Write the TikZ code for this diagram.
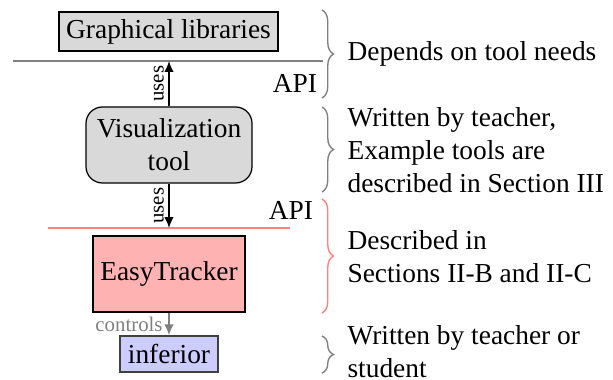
\documentclass[tikz,border=0pt]{standalone}
\usepackage{fontspec}
\newfontfamily\tmsfont{Liberation Serif}[Ligatures=TeX]
\usetikzlibrary{arrows.meta,decorations.pathreplacing}
\tikzset{
  boxbase/.style={draw=black, line width=0.45pt, inner sep=0pt},
  gbox/.style={boxbase, fill=gray!30},
  vbox/.style={boxbase, fill=gray!30, rounded corners=6pt, align=center},
  ebox/.style={boxbase, fill=red!30},
  ibox/.style={boxbase, draw=black!75, fill=blue!20},
  apigray/.style={draw=gray, line width=0.6pt},
  apired/.style={draw=red!50, line width=0.6pt},
  usesarrow/.style={-{Latex[length=4pt,width=3.5pt]}, line width=0.7pt},
  ctrlarrow/.style={-{Latex[length=4pt,width=3.5pt]}, line width=0.7pt, draw=gray},
  smalllabel/.style={font=\tmsfont\fontsize{7.6}{9}\selectfont},
  bracegray/.style={decorate, decoration={brace, amplitude=4.2pt}, draw=gray, line width=0.5pt},
  bracered/.style={decorate, decoration={brace, amplitude=4.2pt}, draw=red!50, line width=0.5pt},
  desc/.style={anchor=west, align=left, inner sep=0pt},
}
\begin{document}
\begin{tikzpicture}[x=0.365pt, y=-0.365pt, font=\tmsfont\fontsize{10}{12}\selectfont]
\useasboundingbox (0,0) rectangle (613,380);

% boxes (centres and sizes from the reference, in pixels * 0.365pt)
\node[gbox, minimum width=219*0.365pt, minimum height=39*0.365pt] (gl) at (168.5,31.5) {Graphical libraries};
\node[vbox, minimum width=166*0.365pt, minimum height=76*0.365pt] (vt) at (169,145) {Visualization\\tool};
\node[ebox, minimum width=152*0.365pt, minimum height=76*0.365pt] (et) at (169,274) {EasyTracker};
\node[ibox, minimum width=98*0.365pt, minimum height=36*0.365pt] (inf) at (169,354) {inferior};

% API lines
\coordinate (ga) at (13,61);
\coordinate (gb) at (323,61);
\coordinate (ra) at (48,228);
\coordinate (rb) at (290,228);
\draw[apigray] (ga) -- (gb);
\draw[apired] (ra) -- (rb);

% arrows
\coordinate (t1) at (vt.north |- ga);
\draw[usesarrow] (vt.north) -- (t1) node[midway, smalllabel, rotate=90, anchor=south, inner sep=1.5pt] (u1) {uses};
\coordinate (t2) at (vt.south |- ra);
\draw[usesarrow] (vt.south) -- (t2) node[midway, smalllabel, rotate=90, anchor=south, inner sep=1.5pt] (u2) {uses};
\draw[ctrlarrow] (et.south) -- (inf.north) node[midway, smalllabel, text=gray, anchor=east, inner sep=2pt] (ctl) {controls};

% API labels
\node (api1) at (295,83) {API};
\node (api2) at (291,210) {API};

% braces
\coordinate (b1a) at (322,10);  \coordinate (b1b) at (322,98);
\coordinate (b2a) at (322,107); \coordinate (b2b) at (322,192);
\coordinate (b3a) at (322,199); \coordinate (b3b) at (322,313);
\coordinate (b4a) at (322,336); \coordinate (b4b) at (322,373);
\draw[bracegray] (b1a) -- (b1b);
\draw[bracegray] (b2a) -- (b2b);
\draw[bracered] (b3a) -- (b3b);
\draw[bracegray] (b4a) -- (b4b);

% descriptions
\node[desc] (d1) at (347,54) {Depends on tool needs};
\node[desc] (d2) at (347,150) {Written by teacher,\\Example tools are\\described in Section III};
\node[desc] (d3) at (347,257) {Described in\\Sections II-B and II-C};
\node[desc] (d4) at (347,352) {Written by teacher or\\student};
\end{tikzpicture}
\end{document}
